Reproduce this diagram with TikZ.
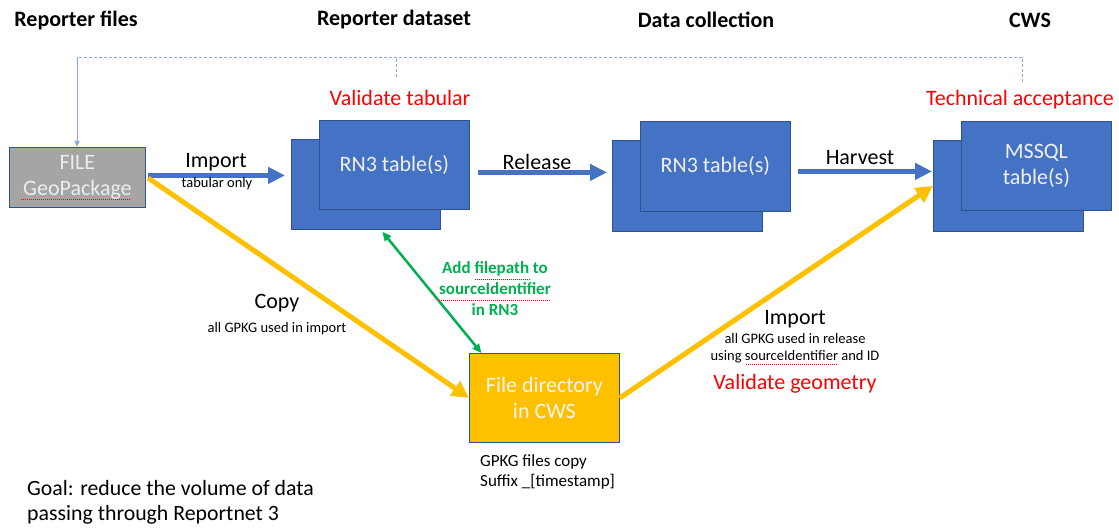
\documentclass[tikz,border=0pt]{standalone}
\usepackage{fontspec}
\setmainfont{Carlito}
\usetikzlibrary{arrows.meta}
\definecolor{bl}{HTML}{4472C4}
\definecolor{bldark}{HTML}{2F528F}
\definecolor{yel}{HTML}{FFC000}
\definecolor{grn}{HTML}{00B050}
\definecolor{gry}{HTML}{A5A5A5}
\definecolor{dashc}{HTML}{8FAADC}
\definecolor{redt}{HTML}{FF0000}
\begin{document}
\begin{tikzpicture}[x=1pt,y=-1pt,
  box/.style={draw=bldark, line width=0.8pt, inner sep=0pt, anchor=north west, align=center},
  tab/.style={box, fill=bl, text=white!94!black, font=\fontsize{22}{26}\selectfont},
  big/.style={font=\fontsize{22}{26}\selectfont, inner sep=0pt},
  small/.style={font=\fontsize{14.5}{17}\selectfont, inner sep=0pt, align=center},
  head/.style={font=\bfseries\fontsize{22}{25}\selectfont, inner sep=0pt},
  redlab/.style={big, text=redt},
  bluearrow/.style={draw=bl, line width=5pt, -{Triangle[length=17pt,width=16pt]}},
  yelarrow/.style={draw=yel, line width=5pt, -{Triangle[length=17pt,width=17pt]}},
  grnarrow/.style={draw=grn, line width=2.5pt, {Triangle[length=9pt,width=8pt]}-{Triangle[length=9pt,width=8pt]}},
  dashline/.style={draw=dashc, line width=0.8pt, dash pattern=on 3pt off 2pt},
  spell/.style={draw=redt, line width=0.6pt, dash pattern=on 1pt off 1pt}
]
\useasboundingbox (0,0) rectangle (1119,529);
\fill[white] (0,0) rectangle (1119,529);

% headers
\node[head] (h1) at (76,20) {Reporter files};
\node[head] (h2) at (394,20) {Reporter dataset};
\node[head] (h3) at (706,20) {Data collection};
\node[head] (h4) at (1030,20) {CWS};

% boxes
\node[box, fill=gry, text=white!93!black, font=\fontsize{22}{26}\selectfont, minimum width=136pt, minimum height=60pt] (file) at (9,147) {FILE\\GeoPackage};
\node[tab, minimum width=149pt, minimum height=90pt] (rn1b) at (291,139) {};
\node[tab, minimum width=150pt, minimum height=89pt] (rn1f) at (319,120) {RN3 table(s)};
\node[tab, minimum width=150pt, minimum height=91pt] (rn2b) at (612,140) {};
\node[tab, minimum width=150pt, minimum height=90pt] (rn2f) at (640,121) {RN3 table(s)};
\node[tab, minimum width=150pt, minimum height=91pt] (msb) at (933,140) {};
\node[tab, minimum width=150pt, minimum height=89pt] (msf) at (961,121) {MSSQL\\table(s)};
\node[box, fill=yel, text=white!96!black, font=\fontsize{22}{26}\selectfont, minimum width=150pt, minimum height=89pt] (dir) at (469,353) {File directory\\in CWS};

% dashed feedback line
\coordinate (dtop) at (1022,82);
\coordinate (dmid) at (396,77);
\draw[dashline] (dtop) -- (1022,57) -- (77,57);
\draw[dashline] (dmid) -- (396,57);
\draw[draw=dashc, line width=0.8pt, -{Triangle[length=6pt,width=5pt]}] (77,57) -- (file.north -| 77,0);

% red labels
\node[redlab] (vt) at (400,98) {Validate tabular};
\node[redlab] (ta) at (1020,100) {Technical acceptance};

% blue arrows
\draw[bluearrow, shorten <=2pt, shorten >=6pt] ([yshift=2pt]file.east) -- ([yshift=2pt]file.east -| rn1b.west);
\node[big] (limp) at (216,162) {Import};
\node[small] (ltab) at (217,184) {tabular only};

\draw[bluearrow, shorten <=8pt, shorten >=5pt] ([yshift=-7.5pt]rn1f.east) -- ([yshift=-7.5pt]rn1f.east -| rn2b.west);
\node[big] (lrel) at (537,162) {Release};

\draw[bluearrow, shorten <=7pt, shorten >=1pt] ([yshift=-5pt]rn2f.east) -- ([yshift=-5pt]rn2f.east -| msb.west);
\node[big] (lharv) at (860,158) {Harvest};

% yellow arrows
\draw[yelarrow, shorten <=3pt] ([yshift=1pt]file.east) -- (dir.west);
\node[big] (lcopy) at (277,303) {Copy};
\node[small] (lcopys) at (277,329) {all GPKG used in import};

\draw[yelarrow] (dir.east) -- (msb.west);
\node[big] (limp2) at (795,319) {Import};
\node[small] (limp2s) at (795,348.5) {all GPKG used in release\\using sourceIdentifier and ID};
\node[redlab] (vg) at (795,384) {Validate geometry};

% green arrow
\draw[grnarrow] ([xshift=16.5pt,yshift=-2pt]rn1b.south) -- ([xshift=-63pt]dir.north);
\node[font=\bfseries\fontsize{17}{21}\selectfont, text=grn, align=center, inner sep=0pt] (lgreen) at (495,289) {Add filepath to\\sourceIdentifier\\in RN3};

% notes
\node[font=\fontsize{17}{20}\selectfont, align=left, anchor=west, inner sep=0pt] (lgpkg) at (480,472) {GPKG files copy\\Suffix \_[timestamp]};
\node[font=\fontsize{21.8}{25}\selectfont, align=left, anchor=west, inner sep=0pt] (lgoal) at (27,502.5) {Goal: reduce the volume of data\\passing through Reportnet 3};

% spell-check underlines
\draw[spell] (21,199) -- (131,199);
\draw[spell] (475,279) -- (530,279);
\draw[spell] (439,300) -- (551,300);
\draw[spell] (746,364) -- (838,364);
\end{tikzpicture}
\end{document}
